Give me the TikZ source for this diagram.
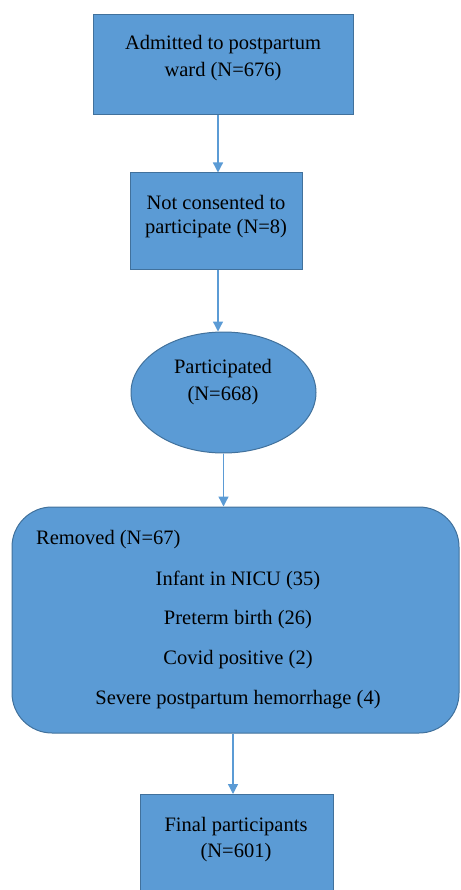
\documentclass[tikz,border=0pt]{standalone}
\usepackage{fontspec}
\setmainfont{Liberation Serif}
\usetikzlibrary{arrows.meta,shapes.geometric}
\definecolor{boxfill}{HTML}{5B9BD5}
\definecolor{boxline}{HTML}{41719C}
\definecolor{arrcol}{HTML}{5B9BD5}
\tikzset{
  shapebox/.style={draw=boxline, fill=boxfill, line width=1pt, inner sep=0pt},
  txt/.style={inner sep=0pt, font=\fontsize{20.5}{27}\selectfont, text=black},
  arr/.style={draw=arrcol, line width=1.3pt, -{Triangle[width=10pt,length=10pt]}}
}
\begin{document}
\begin{tikzpicture}[x=1pt,y=-1pt]
\useasboundingbox (0,0) rectangle (460,890);
% shapes
\node[shapebox, rectangle, minimum width=260pt, minimum height=100pt] (b1) at (223,65) {};
\node[shapebox, rectangle, minimum width=172pt, minimum height=97pt] (b2) at (216,221.5) {};
\node[shapebox, ellipse, minimum width=185pt, minimum height=121pt] (e1) at (223.5,392.5) {};
\node[shapebox, rectangle, rounded corners=40pt, minimum width=447pt, minimum height=226pt] (r1) at (235.5,620) {};
\node[shapebox, rectangle, minimum width=193pt, minimum height=120pt, anchor=north] (b3) at (236.5,794) {};
% texts
\node[txt] (t1a) at (223,45) {Admitted to postpartum};
\node[txt] (t1b) at (223,72) {ward (N=676)};
\node[txt] (t2a) at (216,202) {Not consented to};
\node[txt] (t2b) at (216,229) {participate (N=8)};
\node[txt] (t3a) at (223,369) {Participated};
\node[txt] (t3b) at (223,396) {(N=668)};
\node[txt, anchor=west] (t4a) at (36,540) {Removed (N=67)};
\node[txt] (t4b) at (238,580) {Infant in NICU (35)};
\node[txt] (t4c) at (238,620) {Preterm birth (26)};
\node[txt] (t4d) at (238,660) {Covid positive (2)};
\node[txt] (t4e) at (238,700) {Severe postpartum hemorrhage (4)};
\node[txt] (t5a) at (236,827) {Final participants};
\node[txt] (t5b) at (236,853) {(N=601)};
% arrows
\draw[arr] ([xshift=-5pt]b1.south) -- ([xshift=2pt]b2.north);
\draw[arr] ([xshift=2pt]b2.south) -- ([xshift=-5.5pt]e1.north);
\draw[arr] (e1.south) -- (e1.south |- r1.north);
\draw[arr] ([xshift=-2.5pt]r1.south) -- ([xshift=-3.5pt]b3.north);
\end{tikzpicture}
\end{document}
